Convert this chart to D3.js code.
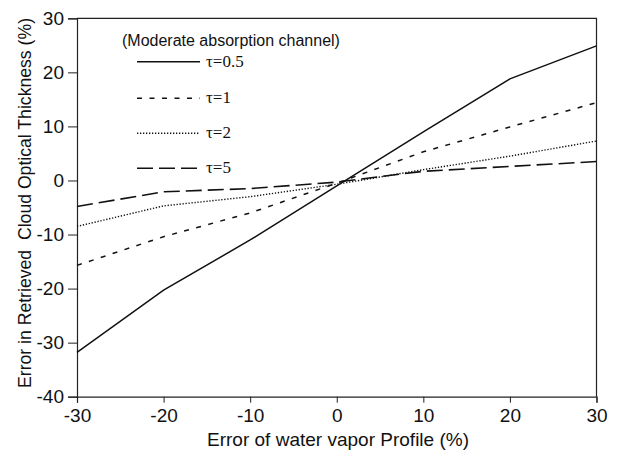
<!DOCTYPE html>
<html lang="en">
<head>
    <meta charset="UTF-8">
    <title>Cloud optical thickness error</title>
    <script src="https://d3js.org/d3.v7.min.js"></script>
    <style>
        body { margin: 0; background: #fff; }
        text { font-family: "Liberation Sans", Arial, sans-serif; fill: #111; }
        .tau { font-family: "Liberation Serif", "Times New Roman", serif; }
        .domain { stroke: #222; }
    </style>
</head>
<body>
    <script>
        // Data
        const errVapor = [-30, -20, -10, 0, 10, 20, 30];
        const tau05 = [-31.8, -20.3, -11.0, -1.0, 9.0, 18.8, 24.9];
        const tau1 = [-15.7, -10.4, -6.0, -0.5, 5.3, 9.9, 14.4];
        const tau2 = [-8.5, -4.7, -3.0, -0.7, 2.0, 4.5, 7.3];
        const tau5 = [-4.8, -2.1, -1.5, -0.3, 1.7, 2.6, 3.5];
        const seriesNames = ["\u03c4=0.5", "\u03c4=1", "\u03c4=2", "\u03c4=5"];
        const xTicks = [-30, -20, -10, 0, 10, 20, 30];
        const yTicks = [-40, -30, -20, -10, 0, 10, 20, 30];

        const width = 617, height = 451;
        const svg = d3.select("body").append("svg")
            .attr("width", width)
            .attr("height", height);

        // Scales
        const x = d3.scaleLinear().domain([-30, 30]).range([77, 596.5]);
        const y = d3.scaleLinear().domain([-40, 30]).range([396.7, 18.3]);

        // minor ticks every 2
        const minorX = d3.range(-30, 31, 2).filter(v => v % 10 !== 0);
        const minorY = d3.range(-40, 31, 2).filter(v => v % 10 !== 0);

        // frame (top and right)
        svg.append("path")
            .attr("d", `M${x(-30)},${y(30)}H${x(30)}V${y(-40)}`)
            .attr("fill", "none")
            .attr("stroke", "#222")
            .attr("stroke-width", 1.2);

        // X axis
        const gx = svg.append("g").attr("transform", `translate(0,${y(-40)})`);
        gx.call(d3.axisBottom(x).tickValues(minorX).tickSize(4).tickFormat(""));
        gx.call(d3.axisBottom(x).tickValues(xTicks).tickSize(6).tickPadding(6).tickFormat(d => String(d)));
        gx.selectAll("text").attr("font-size", 19).style("font-family", "Liberation Sans, Arial, sans-serif");

        // Y axis
        const gy = svg.append("g").attr("transform", `translate(${x(-30)},0)`);
        gy.call(d3.axisLeft(y).tickValues(minorY).tickSize(4).tickFormat(""));
        gy.call(d3.axisLeft(y).tickValues(yTicks).tickSize(9).tickPadding(4).tickFormat(d => String(d)));
        gy.selectAll("text").attr("font-size", 19).style("font-family", "Liberation Sans, Arial, sans-serif");

        svg.selectAll(".domain").attr("stroke-width", 1.2);
        svg.selectAll(".tick line").attr("stroke", "#222");

        // Lines
        const styles = [
            { data: tau05, dash: null, w: 1.5 },
            { data: tau1, dash: "5,7.5", w: 1.5 },
            { data: tau2, dash: "1.3,1.7", w: 1.4 },
            { data: tau5, dash: "16,6", w: 1.6 }
        ];

        const line = d3.line()
            .x((d, i) => x(errVapor[i]))
            .y(d => y(d));

        styles.forEach(s => {
            svg.append("path")
                .datum(s.data)
                .attr("d", line)
                .attr("fill", "none")
                .attr("stroke", "#111")
                .attr("stroke-width", s.w)
                .attr("stroke-dasharray", s.dash);
        });

        // Legend
        svg.append("text")
            .attr("x", 122)
            .attr("y", 46)
            .attr("font-size", 16)
            .text("(Moderate absorption channel)");

        const legY = [61.7, 98.3, 133.3, 168.3];
        styles.forEach((s, i) => {
            svg.append("line")
                .attr("x1", 137).attr("x2", 200)
                .attr("y1", legY[i]).attr("y2", legY[i])
                .attr("stroke", "#111")
                .attr("stroke-width", s.w)
                .attr("stroke-dasharray", s.dash);
            svg.append("text")
                .attr("class", "tau")
                .attr("x", 206)
                .attr("y", legY[i] + 5)
                .attr("font-size", 17)
                .text(seriesNames[i]);
        });

        // Axis titles
        svg.append("text")
            .attr("x", 338)
            .attr("y", 446)
            .attr("text-anchor", "middle")
            .attr("font-size", 19)
            .attr("textLength", 262)
            .attr("lengthAdjust", "spacingAndGlyphs")
            .text("Error of water vapor Profile (%)");

        svg.append("text")
            .attr("transform", "translate(30.5,203) rotate(-90)")
            .attr("text-anchor", "middle")
            .attr("font-size", 18.5)
            .attr("textLength", 370)
            .attr("lengthAdjust", "spacingAndGlyphs")
            .style("white-space", "pre")
            .text("Error in Retrieved  Cloud Optical Thickness (%)");
    </script>
</body>
</html>
